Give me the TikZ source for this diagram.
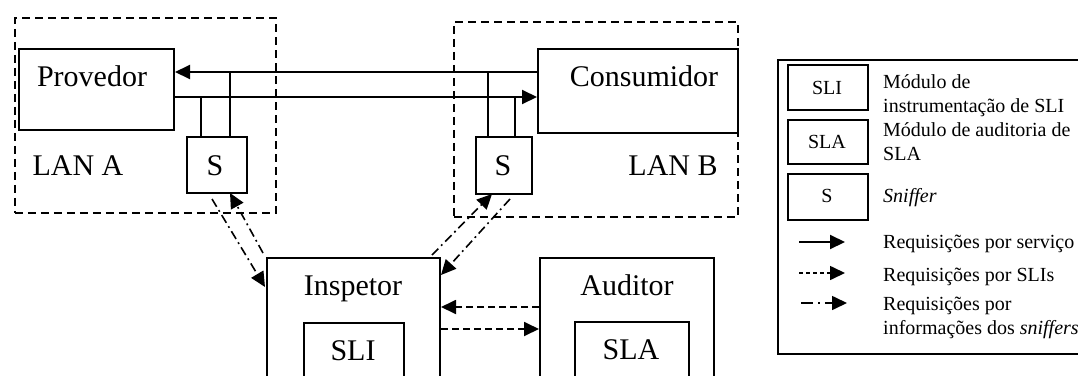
\documentclass[tikz,border=0pt]{standalone}
\usepackage{fontspec}
\setmainfont{Liberation Serif}
\usetikzlibrary{arrows.meta}
\begin{document}
\begin{tikzpicture}[x=1pt,y=-1pt,
  box/.style={draw,line width=2pt,inner sep=0pt,anchor=north west},
  lanbox/.style={draw,line width=1.8pt,dash pattern=on 8pt off 5pt,inner sep=0pt,anchor=north west},
  big/.style={font=\fontsize{30}{36}\selectfont,inner sep=0pt,anchor=base},
  small/.style={font=\fontsize{20}{24}\selectfont,inner sep=0pt,anchor=base},
  legtxt/.style={font=\fontsize{20}{24}\selectfont,inner sep=0pt,anchor=base west,align=left},
  tip/.style={-{Triangle[length=15pt,width=14pt]}},
  wire/.style={line width=2pt},
  slireq/.style={line width=1.8pt,dash pattern=on 7pt off 4pt},
  snfreq/.style={line width=1.6pt,dash pattern=on 9pt off 4pt on 1.8pt off 4pt},
]
\clip (0,0) rectangle (1078,375);
\fill[white] (0,0) rectangle (1078,375);

% LAN regions
\node[lanbox,minimum width=261pt,minimum height=195pt] (lanA) at (14,17) {};
\node[lanbox,minimum width=284pt,minimum height=195pt] (lanB) at (453,21) {};

% Provider / Consumer
\node[box,minimum width=155pt,minimum height=81pt] (prov) at (18,48) {};
\node[big] (provT) at (92,86) {Provedor};
\node[box,fill=white,minimum width=200pt,minimum height=84pt] (cons) at (537,48) {};
\node[big] (consT) at (644,86) {Consumidor};
\node[big] (lanAT) at (78,175) {LAN A};
\node[big] (lanBT) at (673,175) {LAN B};

% sniffers
\node[box,minimum width=60pt,minimum height=56pt] (sA) at (186,136) {};
\node[big] (sAT) at (215,175) {S};
\node[box,minimum width=56pt,minimum height=57pt] (sB) at (475,136) {};
\node[big] (sBT) at (503,175) {S};

% service request lines
\draw[wire,tip] (cons.west |- 0,72) -- (prov.east |- 0,72);
\draw[wire,tip] (prov.east |- 0,97) -- (cons.west |- 0,97);
\draw[wire] (sA.north -| 201,0) -- (201,97);
\draw[wire] (sA.north -| 230,0) -- (230,72);
\draw[wire] (sB.north -| 488,0) -- (488,72);
\draw[wire] (sB.north -| 515,0) -- (515,97);

% Inspetor / Auditor
\node[box,minimum width=173pt,minimum height=150pt] (insp) at (266,257) {};
\node[big] (inspT) at (353,295) {Inspetor};
\node[box,minimum width=100pt,minimum height=80pt] (sli) at (303,322) {};
\node[big] (sliT) at (353,360) {SLI};
\node[box,minimum width=174pt,minimum height=150pt] (aud) at (539,257) {};
\node[big] (audT) at (627,295) {Auditor};
\node[box,minimum width=114pt,minimum height=80pt] (sla) at (574,321) {};
\node[big] (slaT) at (631,359) {SLA};

% SLI requests
\draw[slireq,tip] (aud.west |- 0,307) -- (insp.east |- 0,307);
\draw[slireq,tip] (insp.east |- 0,329) -- (aud.west |- 0,329);

% sniffer info requests
\coordinate (a1s) at (212,199);
\coordinate (a1e) at (265,287);
\coordinate (a2s) at (263,253);
\coordinate (a2e) at (230,193);
\coordinate (b1s) at (432,255);
\coordinate (b1e) at (492,194);
\coordinate (b2s) at (510,199);
\coordinate (b2e) at (441,275);
\draw[snfreq,tip] (a1s) -- (a1e);
\draw[snfreq,tip] (a2s) -- (a2e);
\draw[snfreq,tip] (b1s) -- (b1e);
\draw[snfreq,tip] (b2s) -- (b2e);

% legend
\node[box,minimum width=320pt,minimum height=294pt] (leg) at (777,59) {};
\node[box,minimum width=80pt,minimum height=45pt] (lsli) at (787,64) {};
\node[small] (lsliT) at (827,94) {SLI};
\node[box,minimum width=80pt,minimum height=44pt] (lsla) at (787,119) {};
\node[small] (lslaT) at (827,148) {SLA};
\node[box,minimum width=80pt,minimum height=46pt] (ls) at (787,173) {};
\node[small] (lsT) at (827,202) {S};
\node[legtxt] (t1) at (883,112) {Módulo de\\instrumentação de SLI};
\node[legtxt] (t2) at (883,160) {Módulo de auditoria de\\SLA};
\node[legtxt] (t3) at (883,202) {\itshape Sniffer};
\node[legtxt] (t4) at (883,248) {Requisições por serviço};
\node[legtxt] (t5) at (883,281) {Requisições por SLIs};
\node[legtxt] (t6) at (883,334) {Requisições por\\informações dos \textit{sniffers}};
\coordinate (l1s) at (799,242);
\coordinate (l1e) at (845,242);
\coordinate (l2s) at (799,273);
\coordinate (l2e) at (845,273);
\coordinate (l3s) at (801,303);
\coordinate (l3e) at (847,303);
\draw[wire,tip] (l1s) -- (l1e);
\draw[line width=1.6pt,dash pattern=on 4pt off 3pt,tip] (l2s) -- (l2e);
\draw[line width=1.6pt,dash pattern=on 12pt off 5pt on 1.8pt off 5pt,tip] (l3s) -- (l3e);
\end{tikzpicture}
\end{document}
